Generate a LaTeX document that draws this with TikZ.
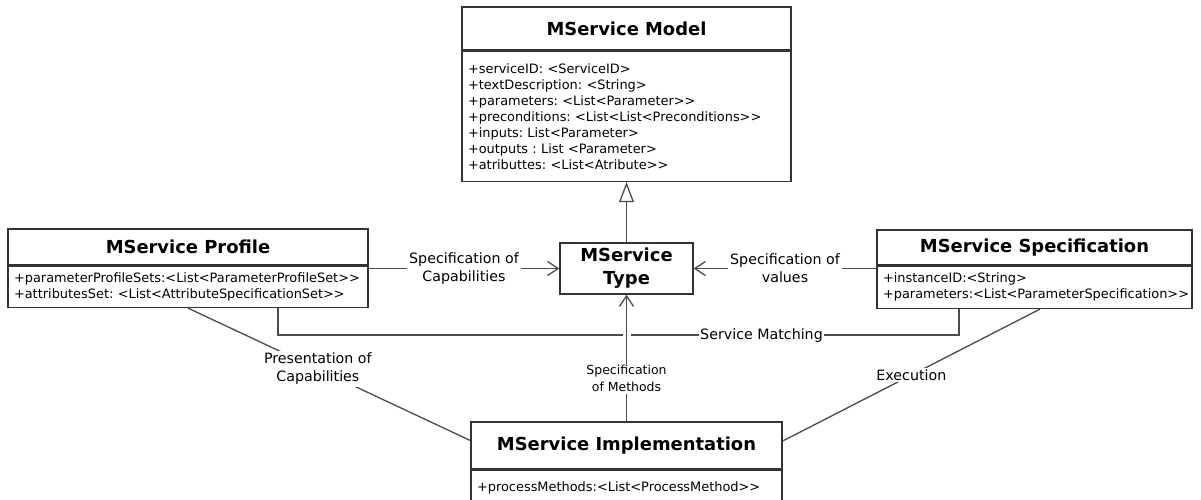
\documentclass[tikz,border=0pt]{standalone}
\usepackage{fontspec}
\setmainfont{DejaVu Sans}[Ligatures=TeXOff]
\frenchspacing
\usetikzlibrary{arrows.meta, positioning}

\begin{document}
\begin{tikzpicture}[
  clshead/.style={draw=black!80, line width=0.8pt, align=center, inner sep=2pt,
    font=\fontsize{10.2}{13}\selectfont\bfseries},
  clsbody/.style={draw=black!80, line width=0.8pt, anchor=north, align=left,
    inner xsep=0.12cm, inner ysep=2pt, font=\fontsize{7.35}{9.1}\selectfont},
  conn/.style={draw=black!70, line width=0.75pt},
  assoc/.style={conn, -{Straight Barb[length=6pt, width=8pt]}},
  inherit/.style={conn, -{Triangle[open, length=0.4cm, width=0.3cm, fill=white]}},
  lbl/.style={fill=white, inner sep=1pt, align=center, font=\fontsize{8.1}{10.2}\selectfont}
]
\useasboundingbox (0,0) rectangle (24.02,-9.98);

% Classes
\node[clshead, minimum width=6.58cm, minimum height=0.86cm] (modelhead) at (12.53,-0.57) {MService Model};
\node[clsbody, text width=6.34cm, minimum height=2.6cm, below=0pt of modelhead] (modelbody)
  {+serviceID: <ServiceID>\\
   +textDescription: <String>\\
   +parameters: <List<Parameter>>\\
   +preconditions: <List<List<Preconditions>>\\
   +inputs: List<Parameter>\\
   +outputs : List <Parameter>\\
   +atributtes: <List<Atribute>>};

\node[clshead, minimum width=7.2cm, minimum height=0.72cm] (profhead) at (3.76,-4.94) {MService Profile};
\node[clsbody, text width=6.96cm, minimum height=0.82cm, below=0pt of profhead] (profbody)
  {+parameterProfileSets:<List<ParameterProfileSet>>\\
   +attributesSet: <List<AttributeSpecificationSet>>};

\node[clshead, minimum width=6.3cm, minimum height=0.7cm] (spechead) at (20.69,-4.95) {MService Specification};
\node[clsbody, text width=6.06cm, minimum height=0.84cm, below=0pt of spechead] (specbody)
  {+instanceID:<String>\\
   +parameters:<List<ParameterSpecification>>};

\node[clshead, minimum width=2.66cm, minimum height=1.02cm] (type) at (12.53,-5.37) {MService\\Type};

\node[clshead, minimum width=6.22cm, minimum height=0.94cm] (implhead) at (12.53,-8.91) {MService Implementation};
\node[clsbody, text width=5.98cm, minimum height=0.7cm, below=0pt of implhead] (implbody)
  {+processMethods:<List<ProcessMethod>>};

% Relations
\draw[inherit] (type) -- (modelbody);
\draw[assoc] (profbody.east |- type.west) -- (type.west)
  node[lbl, midway] {Specification of\\Capabilities};
\draw[assoc] (specbody.west |- type.east) -- (type.east)
  node[lbl, midway] {Specification of\\values};
\draw[conn] ([xshift=1.8cm]profbody.south) -- ++(0,-0.54) -| ([xshift=-1.51cm]specbody.south)
  node[lbl, pos=0.355, inner sep=0.5pt] {Service Matching}
  coordinate[pos=0.1] (smline);
\node[fill=white, inner sep=0pt, minimum width=0.16cm, minimum height=0.08cm] (gap) at (type.south |- smline) {};
\draw[assoc] (implhead) -- (type)
  node[lbl, pos=0.336, font=\fontsize{7.1}{9.6}\selectfont] {Specification\\of Methods};
\draw[conn] (profbody.south) -- ([yshift=0.1cm]implhead.west)
  node[lbl, pos=0.46] {Presentation of\\Capabilities};
\draw[conn] ([xshift=0.11cm]specbody.south) -- ([yshift=0.09cm]implhead.east)
  node[lbl, midway] {Execution};

\end{tikzpicture}
\end{document}
